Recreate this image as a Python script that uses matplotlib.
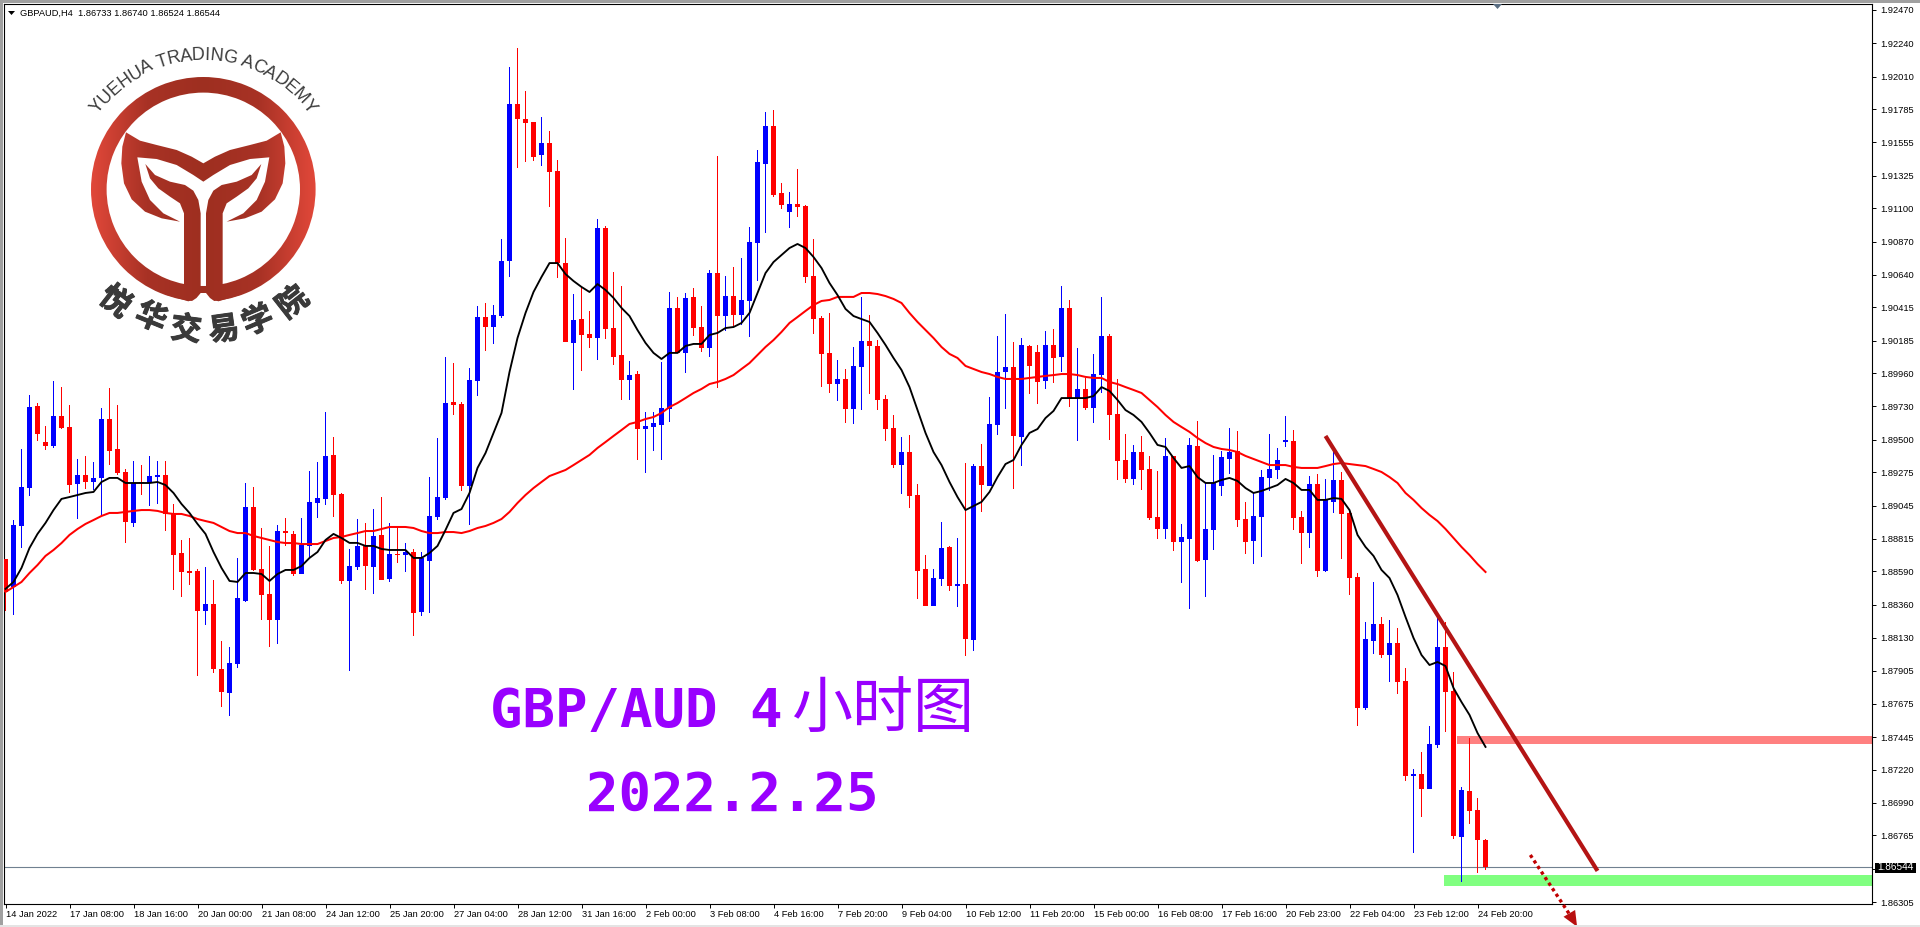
import numpy as np
import matplotlib
matplotlib.use('Agg')
import matplotlib.pyplot as plt
import matplotlib.patheffects as pe
from matplotlib.colors import LinearSegmentedColormap
from matplotlib.patches import Polygon, Rectangle, Wedge

# All prices are kept in points above 1.80000 (8676 means 1.88676)
highs = [8676,8946,9437,9809,9754,9596,9906,9865,9740,9367,9388,9346,9720,9858,9740,9298,9353,9325,9388,9353,
         9353,9056,8808,8822,8607,8621,8530,8109,8068,8683,9201,9174,8891,8766,8911,8960,8869,8960,9284,9346,
         9692,9519,9132,8745,8952,8925,9021,9104,8925,8897,8787,8745,8724,9242,9512,10072,10030,9761,9996,10425,
         10445,10431,10888,12076,12207,11910,11696,11730,11633,11433,10893,10507,10556,10390,11026,10977,10659,10563,10044,9975,
         9692,9692,10037,10521,10487,10514,10549,10425,10673,11461,10632,10694,10756,10970,11502,11765,11779,11274,11212,11371,
         11122,10888,10356,10376,10051,9989,10141,10487,10362,10189,9809,9671,9519,9533,9194,8703,8607,8932,8766,8821,
         9339,9332,9471,9796,10217,10369,10175,10203,10155,10155,10251,10265,10563,10466,10134,9927,10093,10487,10231,9920,
         9540,9464,9526,9388,9284,9512,9388,8918,9512,9630,9201,9395,9422,9581,9561,9070,9132,9291,9540,9443,
         9664,9567,9008,9249,9263,9229,9415,9277,9014,8579,8240,8517,8275,8254,8199,7922,7224,7342,7522,8268,
         8240,7895,7100,7439,7024,6740]
lows = [8316,8288,8753,9112,9492,9429,9444,9575,9132,8953,9160,9153,8974,9325,9256,8787,8898,9118,9043,9056,
        8868,8462,8413,8496,7867,8219,7888,7653,7591,7922,8378,8593,8254,8068,8089,8766,8558,8572,8690,8960,
        9049,8967,8503,7902,8600,8462,8434,8530,8517,8648,8586,8143,8281,8302,8946,9084,9671,9146,8911,9803,
        10113,10162,10342,10625,11378,11419,11426,11391,11109,10618,10176,9844,9975,10134,10051,10196,10016,9775,9775,9360,
        9270,9422,9360,9623,10100,9961,10217,10107,10072,9858,10251,10286,10293,10210,10597,10929,11178,11095,10963,11039,
        10583,10231,9865,9823,9768,9616,9609,9706,9816,9706,9492,9305,9125,9028,8399,8351,8351,8489,8455,8344,
        8005,8040,9001,9181,9533,9713,9160,9318,9816,9747,9851,9892,9968,9726,9491,9706,9616,9823,9498,9222,
        9201,9187,9153,8946,8814,8814,8731,8510,8330,8655,8413,8738,9111,9263,8897,8710,8641,8689,9146,9229,
        9450,8876,8641,8752,8551,8586,8994,8676,8427,7522,7632,8019,7992,7826,7743,7142,6644,6893,7086,7370,
        7480,6741,6444,6844,6506,6524]
opens = [8676,8483,8905,9167,9734,9485,9458,9665,9589,9194,9256,9208,9236,9644,9437,9277,8925,9208,9201,9242,
         9256,8987,8717,8592,8592,8316,8364,7915,7749,7949,8385,9035,8607,8434,8254,8869,8849,8572,8766,9063,
         9091,9395,9125,8524,8621,8766,8621,8842,8537,8710,8703,8724,8309,8662,8967,9098,9761,9747,9181,9906,
         10349,10280,10356,10735,11820,11717,11696,11467,11551,11357,10721,10169,10335,10231,10203,10963,10272,10086,9913,9954,
         9575,9589,9603,9713,10411,10100,10487,10280,10134,10652,10356,10493,10362,10459,10860,11405,11668,11205,11074,11129,
         11115,10632,10342,10100,9885,9920,9713,10003,10182,10148,9782,9581,9325,9415,9118,8607,8351,8537,8759,8489,
         8503,8116,9319,9181,9602,9968,10003,9519,10148,10106,9906,10155,10072,10411,9788,9851,9719,9947,10217,9678,
         9360,9229,9415,9298,8966,8883,9388,8793,8814,9457,8669,8876,9181,9367,9422,8952,8800,8966,9236,9291,
         9485,9491,8966,8855,9194,8593,9070,9222,8994,8551,7646,8109,8227,8012,8095,7833,7176,7190,7086,7390,
         8068,7763,6754,7072,6941,6733]
closes = [8448,8911,9174,9727,9540,9458,9665,9582,9187,9256,9208,9236,9644,9422,9270,8932,9201,9201,9249,9256,
          8987,8703,8586,8579,8316,8364,7915,7756,7956,8406,9035,8600,8427,8254,8869,8855,8572,8773,9070,9098,
          9388,9118,8524,8628,8766,8628,8835,8530,8710,8703,8724,8302,8683,8974,9104,9754,9740,9181,9913,10349,
          10280,10362,10735,11820,11717,11689,11454,11551,11350,10721,10176,10328,10224,10203,10963,10265,10072,9913,9947,9575,
          9596,9616,9720,10411,10100,10480,10272,10134,10652,10356,10493,10362,10466,10867,11419,11668,11191,11122,11129,11109,
          10625,10335,10093,9885,9920,9713,10010,10182,10148,9775,9575,9325,9415,9111,8593,8351,8544,8752,8489,8503,
          8123,9319,9187,9609,9968,10003,9526,10155,10010,9899,10155,10065,10411,9788,9851,9719,9954,10217,9671,9353,
          9229,9415,9291,8959,8883,9388,8793,8828,9464,8662,8883,9201,9381,9415,8945,8793,8973,9243,9298,9360,
          9498,8959,8855,9194,8593,9084,9222,8987,8544,7646,8123,8227,8012,8095,7826,7176,7190,7086,7397,8068,
          7757,6761,7079,6934,6734,6544]
ma_fast = [8469,8517,8614,8752,8849,8925,9014,9091,9104,9118,9132,9139,9208,9236,9236,9201,9201,9201,9201,9208,
           9187,9132,9056,8994,8918,8849,8724,8614,8524,8517,8579,8579,8572,8524,8572,8600,8600,8627,8683,8724,
           8807,8849,8821,8787,8787,8766,8766,8745,8738,8738,8738,8683,8683,8717,8766,8876,8994,9021,9132,9305,
           9408,9547,9685,9968,10203,10376,10521,10625,10721,10721,10645,10597,10556,10521,10576,10535,10480,10411,10355,10258,
           10169,10100,10058,10100,10100,10148,10162,10162,10224,10238,10272,10279,10307,10376,10514,10652,10728,10777,10825,10853,
           10825,10763,10687,10583,10500,10404,10355,10334,10314,10238,10155,10065,9982,9864,9705,9547,9415,9325,9208,9104,
           9014,9042,9070,9139,9242,9332,9360,9464,9547,9574,9650,9699,9788,9788,9788,9788,9802,9864,9837,9775,
           9705,9671,9623,9547,9464,9450,9374,9305,9318,9242,9201,9201,9222,9236,9215,9166,9132,9146,9166,9187,
           9229,9201,9153,9153,9084,9084,9097,9091,9014,8842,8759,8697,8600,8544,8427,8275,8130,8012,7943,7964,
           7936,7784,7687,7598,7473,7377]
ma_slow = [8448,8482,8517,8579,8634,8697,8738,8786,8842,8883,8918,8945,8973,8994,8994,9001,9008,9014,9014,9008,
           8994,8987,8987,8973,8952,8938,8925,8897,8869,8855,8855,8835,8821,8807,8793,8786,8786,8779,8779,8779,
           8800,8821,8828,8842,8855,8869,8869,8883,8897,8897,8897,8890,8869,8855,8855,8862,8862,8855,8869,8890,
           8904,8925,8952,9001,9063,9118,9166,9208,9249,9270,9291,9325,9360,9395,9443,9484,9526,9567,9609,9623,
           9643,9657,9685,9726,9754,9788,9823,9851,9885,9899,9920,9947,9989,10030,10086,10141,10189,10245,10307,10348,
           10390,10431,10459,10466,10487,10487,10487,10514,10514,10507,10493,10473,10445,10376,10314,10258,10203,10141,10093,10065,
           10010,9989,9968,9954,9934,9920,9920,9920,9927,9934,9941,9947,9954,9954,9947,9934,9927,9927,9899,9885,
           9864,9844,9823,9775,9726,9671,9623,9588,9554,9512,9477,9450,9436,9429,9415,9388,9367,9346,9325,9325,
           9325,9312,9305,9305,9305,9318,9332,9339,9332,9325,9318,9298,9277,9242,9201,9132,9084,9028,8980,8938,
           8883,8821,8759,8703,8641,8586]

date_labels = ['14 Jan 2022','17 Jan 08:00','18 Jan 16:00','20 Jan 00:00','21 Jan 08:00','24 Jan 12:00',
               '25 Jan 20:00','27 Jan 04:00','28 Jan 12:00','31 Jan 16:00','2 Feb 00:00','3 Feb 08:00',
               '4 Feb 16:00','7 Feb 20:00','9 Feb 04:00','10 Feb 12:00','11 Feb 20:00','15 Feb 00:00',
               '16 Feb 08:00','17 Feb 16:00','20 Feb 23:00','22 Feb 04:00','23 Feb 12:00','24 Feb 20:00']
price_ticks = [1.92470,1.92240,1.92010,1.91785,1.91555,1.91325,1.91100,1.90870,1.90640,1.90415,
               1.90185,1.89960,1.89730,1.89500,1.89275,1.89045,1.88815,1.88590,1.88360,1.88130,
               1.87905,1.87675,1.87445,1.87220,1.86990,1.86765,1.86535,1.86305]
last_price = 1.86544

# Zones and trend line drawn on the chart
resistance = (1.87397, 1.87453)
support = (1.86416, 1.86492)
trend_x, trend_y = [165, 199], [1.89526, 1.86520]
forecast_x, forecast_y = [190.6, 195.5], [1.86630, 1.86220]

to_price = lambda pts: 1.8 + np.array(pts) / 1e5
highs, lows, opens, closes = map(to_price, (highs, lows, opens, closes))
ma_fast, ma_slow = to_price(ma_fast), to_price(ma_slow)

PX = 0.72  # points per pixel at dpi 100
W, H = 1920, 927
fig = plt.figure(figsize=(19.2, 9.27), dpi=100, facecolor='white')
plt.rcParams['font.family'] = ['Liberation Sans', 'DejaVu Sans']

# Main axes, with the axis box at x 4..1872 and y 4..904 in pixels
ax = fig.add_axes([4 / W, 1 - 904 / H, 1868 / W, 900 / H])
x = np.arange(len(highs))
ax.set_xlim(-0.1875, 233.31)
ax.set_ylim(1.92470 - 894 / 14469, 1.92470 + 6 / 14469)

# Zones sit under the candles
ax.fill_between([181.4, 233.31], *resistance, color='#FF8080', lw=0, zorder=1)
ax.fill_between([179.8, 233.31], *support, color='#80FF80', lw=0, zorder=1)
ax.axhline(last_price, color='#708090', lw=0.8, zorder=1)

# Candles, with thin bars as wicks so they stay one pixel wide
colors = np.where(closes > opens, '#0000FF', '#FF0000')
ax.bar(x, highs - lows, bottom=lows, width=1 / 8, color=colors, lw=0, antialiased=False, zorder=2)
ax.bar(x, np.abs(closes - opens), bottom=np.minimum(opens, closes), width=5 / 8,
       color=colors, lw=0, antialiased=False, zorder=3)

# Moving averages
ax.plot(x, ma_slow, color='#FF0000', lw=1.45, zorder=4)
ax.plot(x, ma_fast, color='#000000', lw=1.35, zorder=4)

# Trend line and forecast arrow
ax.plot(trend_x, trend_y, color='#B41414', lw=3, solid_capstyle='butt', zorder=5)
ax.plot(forecast_x, forecast_y, color='#C00000', lw=2.4, ls=(0, (1, 1)), clip_on=False, zorder=5)
ax.add_patch(Polygon([(194.75, 1.86203), (196.2, 1.86250), (196.45, 1.86134)], closed=True, fc='#B81010',
                     ec='none', clip_on=False, zorder=5))

# Axis ticks
ax.yaxis.tick_right()
ax.set_yticks(price_ticks, ['%.5f' % p for p in price_ticks])
ax.set_xticks(x[::8], date_labels, ha='left')
ax.tick_params(axis='y', length=3, width=0.7, pad=3, labelsize=6.7)
ax.tick_params(axis='x', length=3, width=0.7, pad=1.5, labelsize=6.7)
for s in ax.spines.values():
    s.set_linewidth(0.8)

# Overlay in pixel coordinates for window chrome, logo and caption
ov = fig.add_axes([0, 0, 1, 1], zorder=10)
ov.set_xlim(0, W)
ov.set_ylim(H, 0)
ov.axis('off')
ov.add_patch(Rectangle((0, 0), W, 2.5, fc='#A0A0A0', ec='none'))
ov.add_patch(Rectangle((0, 0), 2.5, 925, fc='#A0A0A0', ec='none'))
ov.add_patch(Rectangle((0, 925), W, 2, fc='#E4E4E4', ec='none'))

ov.add_patch(Polygon([(8, 11), (15, 11), (11.5, 15)], fc='black', ec='none'))
ov.text(20, 13, 'GBPAUD,H4  1.86733 1.86740 1.86524 1.86544', fontsize=6.7, va='center', ha='left')
ov.add_patch(Polygon([(1493, 4), (1502, 4), (1497.5, 9)], fc='#5A6E82', ec='none'))

# Price marker on the axis
ov.add_patch(Rectangle((1875, 862.5), 41, 10.5, fc='black', ec='none'))
ov.text(1895.5, 867.5, '%.5f' % last_price, color='white', fontsize=7.2, ha='center', va='center')

# Logo: gradient fill clipped to each shape
cmap = LinearSegmentedColormap.from_list('logo', ['#E2483A', '#A83225', '#9E2F20', '#A83225', '#E2483A'])
grad = np.linspace(0, 1, 256).reshape(1, -1)
cx, cy = 203.3, 189.3
tail = [(378, 397), (420, 422), (470, 435), (530, 450), (575, 470), (610, 490), (645, 470), (690, 450),
        (750, 435), (800, 422), (842, 397), (853, 440), (856, 490), (848, 550), (825, 598), (785, 635),
        (735, 655), (680, 665), (730, 640), (770, 600), (795, 545), (808, 472), (750, 477), (690, 495),
        (640, 525), (610, 545), (580, 525), (530, 495), (470, 477), (412, 472), (425, 545), (450, 600),
        (490, 640), (540, 665), (485, 655), (435, 635), (395, 598), (372, 550), (364, 490), (367, 440)]
stem_l = [(436, 492), (465, 525), (510, 545), (555, 555), (580, 572), (595, 600), (602, 640), (602, 880),
          (590, 895), (565, 904), (500, 885), (540, 853), (552, 853), (552, 640), (540, 610), (510, 590),
          (475, 565), (450, 535)]
stem_r = [(1220 - a, b) for a, b in stem_l]
shapes = [Wedge((cx, cy), 112.3, 0, 360, width=15.6)]
shapes += [Polygon([(a / 3, b / 3) for a, b in s], closed=True) for s in (tail, stem_l, stem_r)]
for s in shapes:
    s.set(fc='none', ec='none')
    ov.add_patch(s)
    im = ov.imshow(grad, cmap=cmap, extent=(cx - 113, cx + 113, cy + 113, cy - 113), aspect='auto', zorder=0.5)
    im.set_clip_path(s)
ov.set_xlim(0, W)
ov.set_ylim(H, 0)
ov.add_patch(Polygon([(200.7, 293), (196.5, 298), (189, 303), (217, 303), (210, 298), (206, 293)], fc='white',
                     ec='none', zorder=1))

# Curved lettering around the logo
em = dict(zip('YUEHATRDINGCM ', [.667, .722, .667, .722, .667, .611, .722, .722, .278, .722, .778, .722, .833, .278]))
word = 'YUEHUA TRADING ACADEMY'
size_px, radius = 18, 134
pos = 0
total = sum(em[c] for c in word) * size_px
for c in word:
    w = em[c] * size_px
    th = (pos + w / 2 - total / 2) / radius
    ov.text(cx + radius * np.sin(th), cy - radius * np.cos(th), c, color='#3C3C3C', fontsize=size_px * PX,
            rotation=-np.degrees(th), rotation_mode='anchor', ha='center', va='center')
    pos += w
cn_chars = '悦华交易学院'
cn_xy = [(115, 302), (151, 318), (186, 330), (224, 330), (258, 321), (293, 303)]
cn_rot = [-38, -22, -7, 8, 23, 38]
for c, (a, b), r in zip(cn_chars, cn_xy, cn_rot):
    ov.text(a, b, c, family=['Noto Sans CJK SC', 'DejaVu Sans'], weight='bold', color='#3A3A3A', fontsize=31 * PX,
            rotation=r, rotation_mode='anchor', ha='center', va='center',
            path_effects=[pe.withStroke(linewidth=0.7, foreground='#3A3A3A')])

# Caption
purple = '#9900FF'
ov.text(490, 727, 'GBP/AUD 4', family='DejaVu Sans Mono', weight='bold', color=purple, fontsize=54 * PX,
        ha='left', va='baseline')
ov.text(791, 727, '小时图', family='Noto Sans CJK SC', weight='medium', color=purple, fontsize=61 * PX,
        ha='left', va='baseline')
ov.text(586, 811, '2022.2.25', family='DejaVu Sans Mono', weight='bold', color=purple, fontsize=54 * PX,
        ha='left', va='baseline')

fig.savefig('out.png', dpi=100)
